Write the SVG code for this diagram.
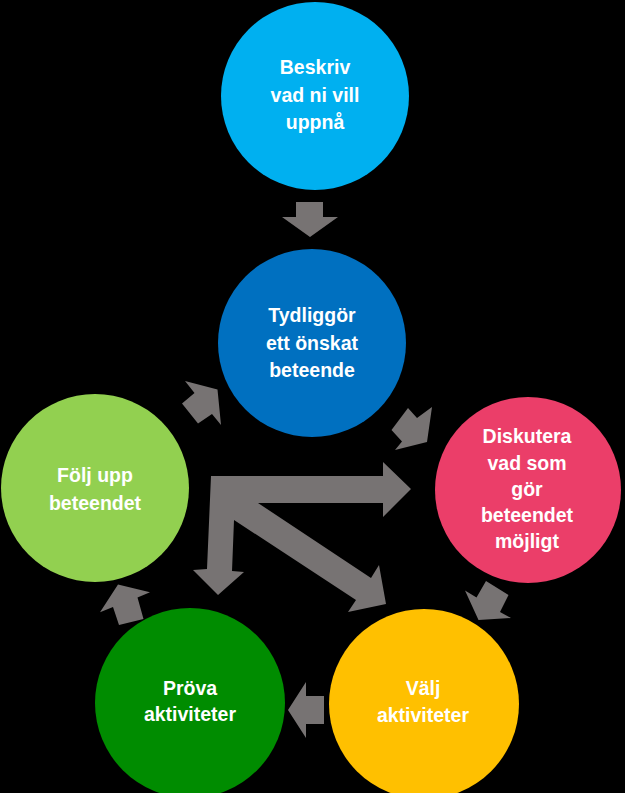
<svg xmlns="http://www.w3.org/2000/svg" width="625" height="793" viewBox="0 0 625 793">
<style>
.t{font-family:"Liberation Sans","Open Sans",Arial,sans-serif;font-weight:bold;font-size:19.5px;fill:#ffffff;text-anchor:middle}
.a{fill:#777373;stroke:none}
</style>
<rect x="0" y="0" width="625" height="793" fill="#000000"/>
<g id="connectors">
<polygon class="a" points="296,202 323,202 323,217 338,217 310,237 282,217 296,217"/>
<polygon class="a" points="185,381 217.5,389.5 221,425 212,414 198,423.5 182,403.5 194.5,393"/>
<polygon class="a" points="408,408 417,418 432,407 427,442 395,450 402,441.5 391.5,430"/>
<polygon class="a" points="486,581 508.5,595 500,612 511,618 478.5,620 465,590.5 476.5,597.5"/>
<polygon class="a" points="324,696 306,696 306,682 288,710 306,738 306,724 324,724"/>
<polygon class="a" points="118,584.5 150,592.3 137.5,597.5 143.5,619 119,625 113,607 100,612.3"/>
<polygon class="a" points="211,476 383,476 383,462 411,489 383,517 383,503 258,503 371,578 379,565 386,604 348,612 356,600 234,520 232,571 244,572 218,595 193,570 207,569"/>
</g>
<g id="beskriv">
<circle cx="315" cy="96" r="94" fill="#00B0F0"/>
<text class="t" x="315" y="74">Beskriv</text>
<text class="t" x="315" y="102">vad ni vill</text>
<text class="t" x="315" y="129">uppnå</text>
</g>
<g id="tydliggor">
<circle cx="312" cy="343" r="94" fill="#0070C0"/>
<text class="t" x="312" y="322">Tydliggör</text>
<text class="t" x="312" y="350">ett önskat</text>
<text class="t" x="312" y="377">beteende</text>
</g>
<g id="diskutera">
<circle cx="528" cy="490" r="93" fill="#EB3E69"/>
<text class="t" x="527" y="443">Diskutera</text>
<text class="t" x="527" y="470">vad som</text>
<text class="t" x="527" y="496">gör</text>
<text class="t" x="527" y="522">beteendet</text>
<text class="t" x="527" y="548">möjligt</text>
</g>
<g id="folj">
<circle cx="95" cy="488" r="94" fill="#92D050"/>
<text class="t" x="95" y="482">Följ upp</text>
<text class="t" x="95" y="510">beteendet</text>
</g>
<g id="prova">
<circle cx="190" cy="703" r="95" fill="#008C00"/>
<text class="t" x="190" y="695">Pröva</text>
<text class="t" x="190" y="721">aktiviteter</text>
</g>
<g id="valj">
<circle cx="424" cy="704" r="95" fill="#FFC000"/>
<text class="t" x="423" y="695">Välj</text>
<text class="t" x="423" y="722">aktiviteter</text>
</g>
</svg>
